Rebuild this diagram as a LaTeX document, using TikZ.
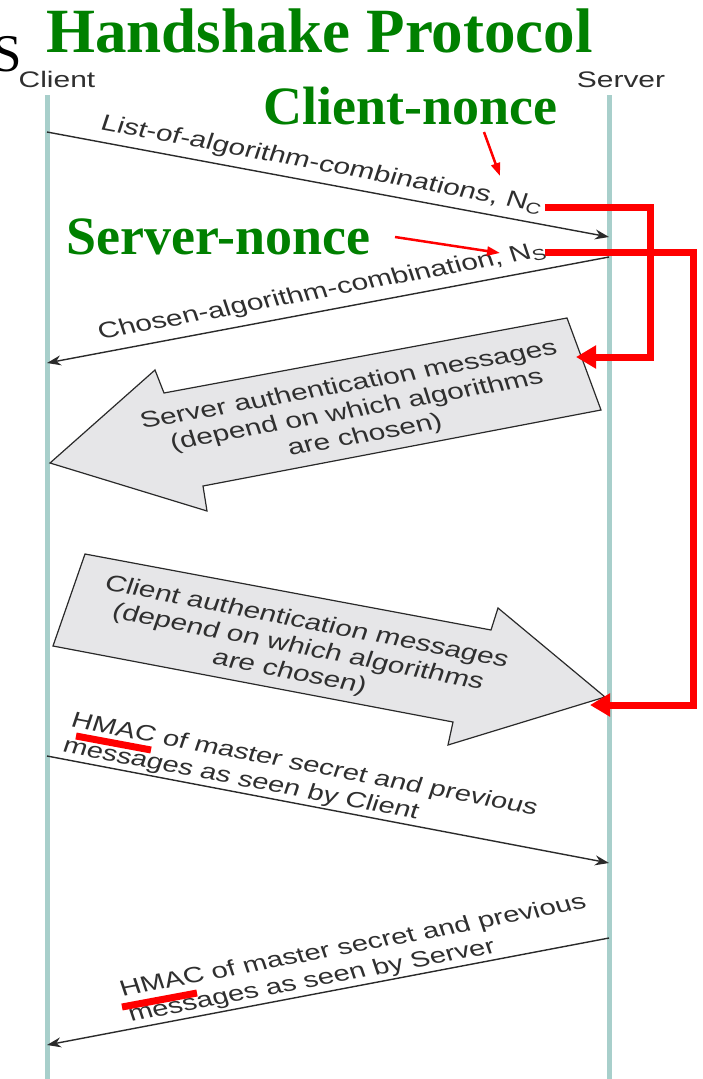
\documentclass[tikz,border=0pt]{standalone}
\usepackage{fontspec}
\setmainfont{Liberation Serif}
\newfontfamily\helv{Liberation Sans}
\usetikzlibrary{arrows.meta}
\definecolor{lifeline}{HTML}{A8CFCB}
\definecolor{msg}{HTML}{2A2A2A}
\definecolor{msgtext}{HTML}{2F2F2F}
\definecolor{ngreen}{HTML}{008000}
\definecolor{boxfill}{HTML}{E6E6E8}
\begin{document}
\begin{tikzpicture}[x=1pt,y=-1pt,
 life/.style={draw=lifeline, line width=5pt},
 msgline/.style={draw=msg, line width=1.4pt, -{Stealth[length=14pt,width=10pt]}},
 gtext/.style={text=msgtext, font=\helv\fontsize{22.5}{26}\selectfont, inner sep=0pt, xscale=1.33},
 stext/.style={gtext, font=\helv\fontsize{22}{26}\selectfont},
 bigarrow/.style={draw=msg, fill=boxfill, line width=1.2pt, line join=miter},
 bracket/.style={draw=red, line width=7pt, line join=miter, -{Triangle[length=20pt,width=22pt]}},
 pointer/.style={draw=red, line width=2.5pt, -{Triangle[length=13pt,width=9pt]}},
 greentitle/.style={text=ngreen, font=\bfseries\fontsize{63}{63}\selectfont, inner sep=0pt},
 greenlabel/.style={text=ngreen, font=\bfseries\fontsize{54}{54}\selectfont, inner sep=0pt},
 hl/.style={draw=red, line width=7pt},
]
\useasboundingbox (0,0) rectangle (702,1079);
\fill[white] (0,0) rectangle (702,1079);

% lifelines
\coordinate (ctop) at (47,95);
\coordinate (cbot) at (47,1079);
\coordinate (stop) at (609,95);
\coordinate (sbot) at (609,1079);
\draw[life] (ctop) -- (cbot);
\draw[life] (stop) -- (sbot);

% titles
\node[greentitle, anchor=base west] (title) at (46,52) {Handshake Protocol};
\node[font=\fontsize{53}{53}\selectfont, inner sep=0pt, anchor=base east] (sfrag) at (22,71) {S};
\node[gtext, anchor=base] (clientlbl) at (57,87) {Client};
\node[gtext, anchor=base] (serverlbl) at (621,87) {Server};
\node[greenlabel, anchor=base west] (cnonce) at (263,124) {Client-nonce};
\node[greenlabel, anchor=base west] (snonce) at (66,254) {Server-nonce};

% messages
\coordinate (m1a) at (47,132);
\coordinate (m1b) at (609,237);
\coordinate (m2a) at (609,257);
\coordinate (m2b) at (47,363);
\coordinate (m3a) at (47,756);
\coordinate (m3b) at (609,863);
\coordinate (m4a) at (609,938);
\coordinate (m4b) at (47,1045);
\draw[msgline] (m1a) -- (m1b);
\draw[msgline] (m2a) -- (m2b);
\draw[msgline] (m3a) -- (m3b);
\draw[msgline] (m4a) -- (m4b);

\node[gtext, rotate=-14] (l1) at (322,165) {List-of-algorithm-combinations, N\textsubscript{C}};
\node[gtext, rotate=14.1] (l2) at (322,292) {Chosen-algorithm-combination, N\textsubscript{S}};

% big arrows
\draw[bigarrow] (567,318) -- (601,410) -- (203,486) -- (207,511) -- (50,463) -- (155,370) -- (164,393) -- cycle;
\node[gtext, rotate=13.5, align=center] (sauth) at (357,411) {Server authentication messages\\(depend on which algorithms\\are chosen)};
\draw[bigarrow] (85,554) -- (491,630) -- (498,608) -- (605,697) -- (448,745) -- (453,722) -- (53,646) -- cycle;
\node[gtext, rotate=-14.5, align=center] (cauth) at (298,648) {Client authentication messages\\(depend on which algorithms\\are chosen)};

\node[stext, rotate=-14.2, align=left, anchor=north west] (l3) at (75,711) {HMAC of master secret and previous\\messages as seen by Client};
\node[stext, rotate=14.2, align=left, anchor=north west] (l4) at (117,981) {HMAC of master secret and previous\\messages as seen by Server};

% red highlights
\coordinate (u1a) at (76,736);
\coordinate (u1b) at (151,750);
\coordinate (u2a) at (122,1007);
\coordinate (u2b) at (197,993);
\draw[hl] (u1a) -- (u1b);
\draw[hl] (u2a) -- (u2b);

\coordinate (nc) at (545,207);
\coordinate (b1) at (650,357);
\coordinate (sa) at (576,357);
\draw[bracket] (nc) -| (b1) -- (sa);
\coordinate (ns) at (545,252);
\coordinate (b2) at (693,705);
\coordinate (ca) at (590,705);
\draw[bracket] (ns) -| (b2) -- (ca);

\coordinate (cnp1) at (484,132);
\coordinate (cnp2) at (500,176);
\draw[pointer] (cnp1) -- (cnp2);
\coordinate (snp1) at (395,237);
\coordinate (snp2) at (500,253);
\draw[pointer] (snp1) -- (snp2);
\end{tikzpicture}
\end{document}
